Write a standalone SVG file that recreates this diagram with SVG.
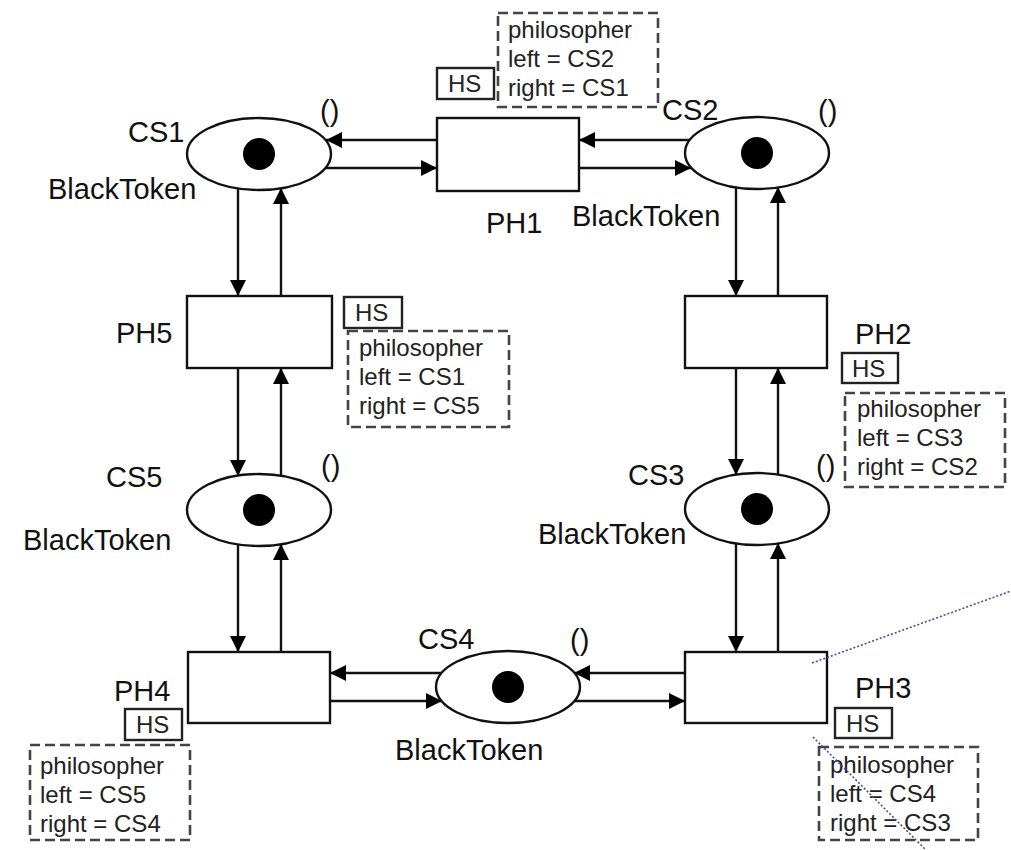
<svg xmlns="http://www.w3.org/2000/svg" width="1011" height="850" viewBox="0 0 1011 850">
<style>
.place{fill:#fff;stroke:#111;stroke-width:2.4}
.tok{fill:#000}
.trans{fill:#fff;stroke:#111;stroke-width:2.4}
.lbl{font-family:"Liberation Sans",Arial,sans-serif;font-size:29px;fill:#111}
.ann{font-family:"Liberation Sans",Arial,sans-serif;font-size:24px;fill:#222}
.hs{fill:#fff;stroke:#222;stroke-width:2.4}
.dash{fill:none;stroke:#444;stroke-width:2.6;stroke-dasharray:10 5}
.arc{fill:none;stroke:#111;stroke-width:2.4;marker-end:url(#ah)}
.dot{fill:none;stroke:#4a4aa0;stroke-width:1.6;stroke-dasharray:2 2}
</style>
<defs>
<marker id="ah" markerUnits="userSpaceOnUse" markerWidth="18" markerHeight="18" viewBox="0 0 18 18" refX="16" refY="8" orient="auto">
<path d="M0,0 L16,8 L0,16 z" fill="#000"/>
</marker>
</defs>
<rect width="1011" height="850" fill="#fff"/>

<g id="connectors">
<line class="arc" x1="437" y1="140" x2="326" y2="140"/>
<line class="arc" x1="326" y1="168" x2="437" y2="168"/>
<line class="arc" x1="691" y1="140" x2="579" y2="140"/>
<line class="arc" x1="579" y1="168" x2="691" y2="168"/>

<line class="arc" x1="238" y1="188" x2="238" y2="296"/>
<line class="arc" x1="281" y1="296" x2="281" y2="188"/>
<line class="arc" x1="238" y1="368" x2="238" y2="476"/>
<line class="arc" x1="281" y1="476" x2="281" y2="368"/>
<line class="arc" x1="238" y1="544" x2="238" y2="652"/>
<line class="arc" x1="281" y1="652" x2="281" y2="544"/>

<line class="arc" x1="736" y1="187" x2="736" y2="296"/>
<line class="arc" x1="778" y1="296" x2="778" y2="187"/>
<line class="arc" x1="736" y1="368" x2="736" y2="475"/>
<line class="arc" x1="778" y1="475" x2="778" y2="368"/>
<line class="arc" x1="736" y1="543" x2="736" y2="652"/>
<line class="arc" x1="778" y1="652" x2="778" y2="543"/>

<line class="arc" x1="442" y1="673" x2="330" y2="673"/>
<line class="arc" x1="330" y1="701" x2="442" y2="701"/>
<line class="arc" x1="685" y1="673" x2="574" y2="673"/>
<line class="arc" x1="574" y1="701" x2="685" y2="701"/>
</g>

<g id="CS1">
<ellipse class="place" cx="259" cy="154" rx="72" ry="36"/>
<circle class="tok" cx="259" cy="154" r="16"/>
<text class="lbl" x="128" y="142">CS1</text>
<text class="lbl" x="48" y="199">BlackToken</text>
<text class="lbl" x="320" y="121">()</text>
</g>

<g id="CS2">
<ellipse class="place" cx="757" cy="153" rx="72" ry="36"/>
<circle class="tok" cx="757" cy="153" r="16"/>
<text class="lbl" x="662" y="120">CS2</text>
<text class="lbl" x="572" y="226">BlackToken</text>
<text class="lbl" x="818" y="121">()</text>
</g>

<g id="CS5">
<ellipse class="place" cx="259" cy="510" rx="72" ry="36"/>
<circle class="tok" cx="259" cy="510" r="16"/>
<text class="lbl" x="106" y="487">CS5</text>
<text class="lbl" x="23" y="550">BlackToken</text>
<text class="lbl" x="321" y="476">()</text>
</g>

<g id="CS3">
<ellipse class="place" cx="757" cy="509" rx="72" ry="36"/>
<circle class="tok" cx="757" cy="509" r="16"/>
<text class="lbl" x="628" y="485">CS3</text>
<text class="lbl" x="538" y="544">BlackToken</text>
<text class="lbl" x="816" y="476">()</text>
</g>

<g id="CS4">
<ellipse class="place" cx="508" cy="687" rx="72" ry="36"/>
<circle class="tok" cx="508" cy="687" r="16"/>
<text class="lbl" x="418" y="649">CS4</text>
<text class="lbl" x="395" y="760">BlackToken</text>
<text class="lbl" x="570" y="650">()</text>
</g>

<g id="PH1">
<rect class="trans" x="437" y="118" width="142" height="73"/>
<text class="lbl" x="486" y="233">PH1</text>
<rect class="hs" x="437" y="68" width="57" height="31"/>
<text class="ann" x="448" y="92">HS</text>
<rect class="dash" x="498" y="13" width="160" height="94"/>
<text class="ann" x="508" y="38">philosopher</text>
<text class="ann" x="508" y="67">left = CS2</text>
<text class="ann" x="508" y="96">right = CS1</text>
</g>

<g id="PH5">
<rect class="trans" x="187" y="296" width="145" height="72"/>
<text class="lbl" x="116" y="343">PH5</text>
<rect class="hs" x="344" y="297" width="58" height="31"/>
<text class="ann" x="355" y="321">HS</text>
<rect class="dash" x="348" y="331" width="161" height="96"/>
<text class="ann" x="359" y="356">philosopher</text>
<text class="ann" x="359" y="385">left = CS1</text>
<text class="ann" x="359" y="414">right = CS5</text>
</g>

<g id="PH2">
<rect class="trans" x="685" y="296" width="142" height="72"/>
<text class="lbl" x="855" y="344">PH2</text>
<rect class="hs" x="842" y="353" width="56" height="30"/>
<text class="ann" x="852" y="377">HS</text>
<rect class="dash" x="845" y="393" width="160" height="94"/>
<text class="ann" x="857" y="417">philosopher</text>
<text class="ann" x="857" y="446">left = CS3</text>
<text class="ann" x="857" y="475">right = CS2</text>
</g>

<g id="PH4">
<rect class="trans" x="188" y="652" width="142" height="71"/>
<text class="lbl" x="114" y="701">PH4</text>
<rect class="hs" x="125" y="709" width="57" height="31"/>
<text class="ann" x="136" y="733">HS</text>
<rect class="dash" x="30" y="745" width="160" height="95"/>
<text class="ann" x="40" y="774">philosopher</text>
<text class="ann" x="40" y="803">left = CS5</text>
<text class="ann" x="40" y="832">right = CS4</text>
</g>

<g id="PH3">
<rect class="trans" x="685" y="652" width="142" height="71"/>
<text class="lbl" x="855" y="698">PH3</text>
<rect class="hs" x="835" y="708" width="57" height="30"/>
<text class="ann" x="846" y="732">HS</text>
<rect class="dash" x="819" y="747" width="159" height="93"/>
<text class="ann" x="830" y="773">philosopher</text>
<text class="ann" x="830" y="802">left = CS4</text>
<text class="ann" x="830" y="831">right = CS3</text>
</g>

<g id="annotation-lines">
<line class="dot" x1="812" y1="663" x2="1011" y2="591"/>
<line class="dot" x1="813" y1="737" x2="926" y2="850"/>
</g>
</svg>
